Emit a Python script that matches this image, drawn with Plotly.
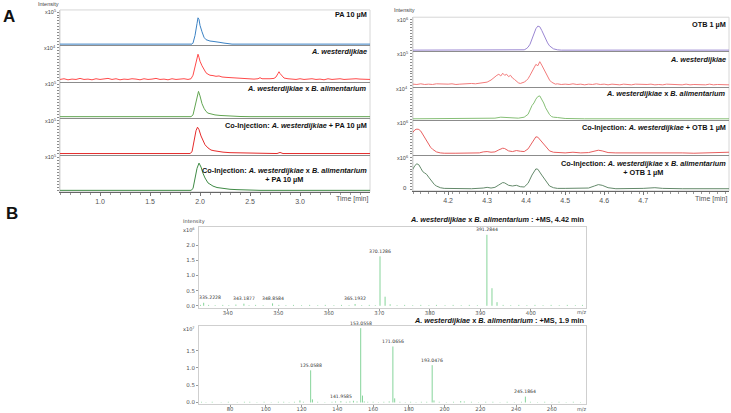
import plotly.graph_objects as go
import numpy as np

W, H = 731, 413
def PX(x): return x / W
def PY(y): return 1 - y / H

# ---------------- DATA ----------------
# Panel A, left: retention time [min] vs relative intensity
pa_std = [(0.60, 0.0), (1.92, 0.0), (1.93, 0.03), (1.95, 0.25), (1.97, 0.6), (1.98, 0.77), (1.99, 0.72),
          (2.00, 0.55), (2.02, 0.36), (2.04, 0.2), (2.06, 0.13), (2.08, 0.1), (2.10, 0.09), (2.13, 0.08),
          (2.16, 0.06), (2.20, 0.05), (2.24, 0.03), (2.28, 0.02), (2.32, 0.0), (3.70, 0.0)]
pa_aw = [(0.60, 0.03), (0.64, 0.05), (0.68, 0.02), (0.72, 0.04), (0.76, 0.03), (0.80, 0.06), (0.84, 0.03),
         (0.88, 0.04), (0.92, 0.02), (0.96, 0.05), (1.00, 0.03), (1.04, 0.04), (1.08, 0.06), (1.12, 0.03),
         (1.16, 0.05), (1.20, 0.02), (1.24, 0.04), (1.28, 0.03), (1.32, 0.05), (1.36, 0.04), (1.40, 0.02),
         (1.44, 0.05), (1.48, 0.03), (1.52, 0.04), (1.56, 0.06), (1.60, 0.03), (1.64, 0.04), (1.68, 0.02),
         (1.72, 0.05), (1.76, 0.03), (1.80, 0.04), (1.84, 0.05), (1.88, 0.03), (1.91, 0.05), (1.93, 0.15),
         (1.95, 0.42), (1.97, 0.68), (1.98, 0.75), (1.99, 0.66), (2.00, 0.55), (2.02, 0.42), (2.04, 0.33),
         (2.06, 0.22), (2.08, 0.18), (2.10, 0.15), (2.13, 0.14), (2.16, 0.12), (2.19, 0.13), (2.22, 0.10),
         (2.26, 0.09), (2.30, 0.08), (2.34, 0.07), (2.38, 0.06), (2.42, 0.06), (2.46, 0.05), (2.50, 0.05),
         (2.54, 0.04), (2.58, 0.05), (2.60, 0.08), (2.62, 0.05), (2.66, 0.04), (2.70, 0.05), (2.74, 0.06),
         (2.76, 0.10), (2.78, 0.20), (2.79, 0.25), (2.80, 0.20), (2.82, 0.12), (2.84, 0.07), (2.88, 0.05),
         (2.92, 0.04), (2.96, 0.03), (3.00, 0.05), (3.04, 0.03), (3.08, 0.04), (3.12, 0.05), (3.16, 0.03),
         (3.20, 0.04), (3.24, 0.02), (3.28, 0.05), (3.32, 0.03), (3.36, 0.04), (3.40, 0.05), (3.44, 0.03),
         (3.48, 0.04), (3.52, 0.03), (3.56, 0.05), (3.60, 0.04), (3.64, 0.03), (3.68, 0.04), (3.70, 0.03)]
pa_awba = [(0.60, 0.01), (1.91, 0.01), (1.93, 0.06), (1.95, 0.3), (1.97, 0.62), (1.985, 0.73), (2.00, 0.6),
           (2.02, 0.38), (2.04, 0.25), (2.06, 0.16), (2.08, 0.11), (2.11, 0.08), (2.15, 0.06), (2.20, 0.045),
           (2.25, 0.035), (2.30, 0.025), (2.40, 0.015), (2.50, 0.01), (2.75, 0.01), (2.79, 0.03), (2.83, 0.01),
           (3.70, 0.01)]
pa_co_aw = [(0.60, 0.0), (1.90, 0.0), (1.92, 0.05), (1.94, 0.35), (1.96, 0.65), (1.975, 0.75), (1.99, 0.68),
            (2.01, 0.5), (2.03, 0.38), (2.05, 0.25), (2.08, 0.16), (2.11, 0.1), (2.14, 0.08), (2.18, 0.06),
            (2.23, 0.04), (2.30, 0.025), (2.37, 0.02), (2.45, 0.01), (2.60, 0.0), (2.77, 0.0), (2.80, 0.03),
            (2.83, 0.0), (3.70, 0.0)]
pa_co_awba = [(0.60, 0.0), (1.91, 0.0), (1.93, 0.05), (1.95, 0.3), (1.97, 0.62), (1.99, 0.77), (2.01, 0.66),
              (2.03, 0.48), (2.05, 0.35), (2.08, 0.21), (2.11, 0.15), (2.13, 0.12), (2.17, 0.08), (2.23, 0.05),
              (2.30, 0.03), (2.37, 0.02), (2.45, 0.01), (2.60, 0.0), (3.70, 0.0)]

# Panel A, right
otb_std = [(4.11, 0.0), (4.39, 0.0), (4.395, 0.01), (4.40, 0.04), (4.405, 0.09), (4.41, 0.18), (4.415, 0.34),
           (4.42, 0.5), (4.425, 0.65), (4.43, 0.73), (4.435, 0.71), (4.44, 0.6), (4.445, 0.47), (4.45, 0.33),
           (4.455, 0.22), (4.46, 0.13), (4.465, 0.07), (4.47, 0.04), (4.48, 0.01), (4.49, 0.0), (4.92, 0.0)]
otb_aw = [(4.11, 0.04), (4.12, 0.03), (4.13, 0.05), (4.14, 0.03), (4.15, 0.04), (4.16, 0.03), (4.17, 0.05),
          (4.18, 0.04), (4.19, 0.03), (4.20, 0.04), (4.21, 0.05), (4.22, 0.03), (4.23, 0.04), (4.24, 0.05),
          (4.25, 0.04), (4.26, 0.06), (4.27, 0.05), (4.28, 0.06), (4.29, 0.08), (4.30, 0.10), (4.31, 0.16),
          (4.32, 0.26), (4.325, 0.30), (4.33, 0.33), (4.335, 0.28), (4.34, 0.36), (4.345, 0.30), (4.35, 0.33),
          (4.355, 0.26), (4.36, 0.30), (4.365, 0.22), (4.37, 0.18), (4.375, 0.12), (4.38, 0.08), (4.385, 0.06),
          (4.39, 0.07), (4.395, 0.10), (4.40, 0.14), (4.405, 0.20), (4.41, 0.30), (4.415, 0.42), (4.42, 0.50),
          (4.425, 0.62), (4.43, 0.58), (4.435, 0.70), (4.44, 0.60), (4.445, 0.48), (4.45, 0.36), (4.455, 0.26),
          (4.46, 0.16), (4.465, 0.10), (4.47, 0.07), (4.475, 0.04), (4.48, 0.05), (4.49, 0.03), (4.50, 0.04),
          (4.51, 0.03), (4.52, 0.05), (4.53, 0.03), (4.54, 0.04), (4.55, 0.02), (4.56, 0.04), (4.57, 0.03),
          (4.58, 0.05), (4.59, 0.03), (4.60, 0.04), (4.61, 0.02), (4.62, 0.04), (4.63, 0.03), (4.64, 0.02),
          (4.65, 0.04), (4.66, 0.03), (4.67, 0.02), (4.68, 0.04), (4.69, 0.03), (4.70, 0.02), (4.71, 0.03),
          (4.72, 0.04), (4.73, 0.02), (4.74, 0.03), (4.75, 0.02), (4.76, 0.04), (4.77, 0.03), (4.78, 0.02),
          (4.79, 0.03), (4.80, 0.02), (4.81, 0.04), (4.82, 0.02), (4.83, 0.03), (4.84, 0.02), (4.85, 0.03),
          (4.86, 0.02), (4.87, 0.04), (4.88, 0.02), (4.89, 0.03), (4.90, 0.02), (4.91, 0.03), (4.92, 0.02)]
otb_awba = [(4.11, 0.01), (4.20, 0.01), (4.28, 0.01), (4.30, 0.02), (4.32, 0.03), (4.335, 0.06), (4.345, 0.05),
            (4.36, 0.03), (4.38, 0.03), (4.395, 0.06), (4.405, 0.15), (4.415, 0.42), (4.42, 0.50), (4.425, 0.62),
            (4.43, 0.70), (4.435, 0.72), (4.44, 0.62), (4.445, 0.50), (4.45, 0.35), (4.455, 0.24), (4.46, 0.14),
            (4.465, 0.08), (4.47, 0.06), (4.48, 0.05), (4.49, 0.03), (4.50, 0.02), (4.55, 0.01), (4.92, 0.01)]
otb_co_aw = [(4.105, 0.58), (4.11, 0.66), (4.115, 0.72), (4.12, 0.74), (4.125, 0.73), (4.13, 0.68), (4.135, 0.58),
             (4.14, 0.48), (4.145, 0.38), (4.15, 0.28), (4.155, 0.20), (4.16, 0.14), (4.165, 0.10), (4.17, 0.06),
             (4.18, 0.03), (4.19, 0.02), (4.22, 0.02), (4.25, 0.02), (4.28, 0.03), (4.29, 0.06), (4.30, 0.07),
             (4.31, 0.05), (4.32, 0.06), (4.33, 0.12), (4.34, 0.17), (4.345, 0.16), (4.355, 0.09), (4.365, 0.07),
             (4.375, 0.10), (4.385, 0.08), (4.395, 0.07), (4.405, 0.15), (4.415, 0.35), (4.425, 0.51), (4.43, 0.50),
             (4.44, 0.36), (4.45, 0.20), (4.46, 0.09), (4.47, 0.05), (4.48, 0.04), (4.49, 0.05), (4.50, 0.03),
             (4.52, 0.05), (4.54, 0.03), (4.56, 0.04), (4.575, 0.09), (4.585, 0.11), (4.595, 0.09), (4.61, 0.04),
             (4.63, 0.03), (4.66, 0.03), (4.69, 0.04), (4.72, 0.05), (4.74, 0.04), (4.77, 0.03), (4.80, 0.03),
             (4.83, 0.02), (4.86, 0.03), (4.89, 0.03), (4.91, 0.05), (4.92, 0.05)]
otb_co_awba = [(4.105, 0.50), (4.11, 0.60), (4.115, 0.70), (4.12, 0.75), (4.125, 0.72), (4.13, 0.62), (4.135, 0.52),
               (4.14, 0.48), (4.145, 0.44), (4.15, 0.36), (4.155, 0.28), (4.16, 0.20), (4.165, 0.14), (4.17, 0.10),
               (4.175, 0.07), (4.18, 0.05), (4.19, 0.03), (4.22, 0.02), (4.26, 0.02), (4.29, 0.04), (4.30, 0.06),
               (4.31, 0.04), (4.32, 0.06), (4.33, 0.13), (4.34, 0.20), (4.345, 0.19), (4.355, 0.12), (4.365, 0.10),
               (4.375, 0.12), (4.385, 0.08), (4.395, 0.07), (4.405, 0.18), (4.415, 0.42), (4.425, 0.60), (4.43, 0.59),
               (4.44, 0.42), (4.45, 0.25), (4.46, 0.10), (4.47, 0.05), (4.48, 0.03), (4.50, 0.03), (4.53, 0.03),
               (4.56, 0.04), (4.575, 0.10), (4.585, 0.14), (4.595, 0.12), (4.61, 0.05), (4.63, 0.02), (4.66, 0.02),
               (4.70, 0.03), (4.73, 0.05), (4.75, 0.03), (4.80, 0.02), (4.85, 0.02), (4.92, 0.02)]

# Panel B: mass spectra (m/z, intensity)
ms1_peaks = [(334.6, 0.03), (335.2228, 0.10), (336.2, 0.03), (337.5, 0.02), (339.0, 0.03), (340.2, 0.02),
             (341.6, 0.04), (343.1877, 0.07), (344.2, 0.02), (345.5, 0.03), (347.0, 0.02), (348.8584, 0.08),
             (350.1, 0.03), (351.5, 0.02), (353.0, 0.03), (354.6, 0.02), (356.2, 0.03), (357.8, 0.02),
             (359.3, 0.03), (361.0, 0.02), (362.5, 0.03), (364.0, 0.02), (365.1932, 0.06), (366.5, 0.02),
             (368.0, 0.03), (369.2, 0.02), (370.1286, 1.63), (371.1318, 0.30), (372.13, 0.05), (373.5, 0.02),
             (375.0, 0.03), (376.6, 0.02), (378.2, 0.03), (379.8, 0.02), (381.3, 0.03), (383.0, 0.02),
             (384.6, 0.03), (386.2, 0.02), (387.8, 0.03), (389.4, 0.02), (391.2844, 2.34), (392.2877, 0.58),
             (393.29, 0.12), (394.5, 0.03), (396.0, 0.02), (397.6, 0.03), (399.2, 0.02), (400.8, 0.03),
             (402.4, 0.02), (404.0, 0.03), (405.6, 0.02), (407.2, 0.03), (408.8, 0.02), (410.2, 0.03)]
ms1_labels = [335.2228, 343.1877, 348.8584, 365.1932, 370.1286, 391.2844]
ms2_peaks = [(64, 0.02), (66.5, 0.01), (70, 0.02), (75, 0.01), (79, 0.02), (84, 0.01), (88, 0.02), (91, 0.02),
             (95, 0.01), (99, 0.02), (103, 0.01), (107, 0.02), (110, 0.02), (113, 0.01), (116, 0.02),
             (119.05, 0.06), (121, 0.02), (125.0588, 0.93), (126.06, 0.09), (129, 0.02), (133, 0.01), (137, 0.02),
             (139, 0.03), (141.9585, 0.04), (145, 0.02), (147, 0.03), (149, 0.05), (151, 0.03), (153.0558, 2.15),
             (154.06, 0.20), (155.06, 0.03), (157, 0.02), (160, 0.02), (163, 0.01), (166, 0.02), (169, 0.03),
             (171.0656, 1.62), (172.07, 0.12), (175, 0.02), (178, 0.01), (181, 0.02), (184, 0.01), (187, 0.02),
             (190, 0.02), (193.0476, 1.08), (194.05, 0.06), (197, 0.02), (201, 0.01), (205, 0.02), (209, 0.04),
             (211, 0.03), (215, 0.02), (219, 0.01), (223, 0.02), (227, 0.02), (231, 0.01), (235, 0.02), (239, 0.01),
             (243, 0.02), (245.1864, 0.17), (248, 0.02), (252, 0.01), (256, 0.02), (260, 0.01), (264, 0.02),
             (268, 0.01), (272, 0.02), (276, 0.01)]
ms2_labels = [125.0588, 141.9585, 153.0558, 171.0656, 193.0476, 245.1864]

left_ticks = [1.0, 1.5, 2.0, 2.5, 3.0]
right_ticks = [4.2, 4.3, 4.4, 4.5, 4.6, 4.7]
ms1_ticks = [340, 350, 360, 370, 380, 390, 400]
ms2_ticks = [80, 100, 120, 140, 160, 180, 200, 220, 240, 260]

AW = "<i>A. westerdijkiae</i>"
BA = "<i>B. alimentarium</i>"
left_series = [
    ("PA 10 µM", pa_std, "#3b82c4", "x10<sup>5</sup>"),
    (AW, pa_aw, "#ff4a4a", "x10<sup>4</sup>"),
    (AW + " x " + BA, pa_awba, "#62a552", "x10<sup>5</sup>"),
    ("Co-Injection: " + AW + " + PA 10 µM", pa_co_aw, "#e52b2b", "x10<sup>5</sup>"),
    ("Co-Injection: " + AW + " x " + BA + "<br>+ PA 10 µM", pa_co_awba, "#3f8a45", "x10<sup>5</sup>"),
]
right_series = [
    ("OTB 1 µM", otb_std, "#9a86d2", "x10<sup>6</sup>"),
    (AW, otb_aw, "#f27b7b", "x10<sup>5</sup>"),
    (AW + " x " + BA, otb_awba, "#86bf76", "x10<sup>4</sup>"),
    ("Co-Injection: " + AW + " + OTB 1 µM", otb_co_aw, "#e85f5f", "x10<sup>6</sup>"),
    ("Co-Injection: " + AW + " x " + BA + "<br>+ OTB 1 µM", otb_co_awba, "#63896a", "x10<sup>6</sup>"),
]

# ---------------- LAYOUT GEOMETRY (pixels) ----------------
FONT = "Liberation Sans, Arial, sans-serif"
TICKC = "#555555"
left_x = (60, 370)
right_x = (413, 729)
left_b = [10, 45.7, 82.3, 119, 155.7, 192.7]
right_b = [17.3, 51.7, 87.3, 121, 156, 191.7]
left_lab_y = [15, 52, 89, 126, 176]
right_lab_y = [25, 60, 94, 128, 169]
left_range = [0.6, 3.7]
right_range = [4.11, 4.92]

fig = go.Figure()
lay = {}
ann = []
shapes = []
n = 0

def axname(k):
    return "" if k == 1 else str(k)

def add_panel(series, xpx, bounds, lab_y, xr, ticks, minor_dt, scale_x):
    global n
    for i, (label, pts, color, scale) in enumerate(series):
        n += 1
        k = axname(n)
        t = [p[0] for p in pts]
        v = [p[1] for p in pts]
        fig.add_trace(go.Scatter(x=t, y=v, mode="lines", line=dict(color=color, width=1),
                                 xaxis="x" + k, yaxis="y" + k, hoverinfo="skip"))
        bottom = i == len(series) - 1
        xa = dict(domain=[PX(xpx[0]), PX(xpx[1])], anchor="y" + k, range=xr, showgrid=False,
                  zeroline=False, showline=True, linecolor="#8c8c8c" if not bottom else "#666666",
                  linewidth=1, fixedrange=True)
        if bottom:
            xa.update(tickmode="array", tickvals=ticks, ticktext=[f"{x:.1f}" for x in ticks],
                      ticks="outside", ticklen=3, tickcolor="#777", tickfont=dict(size=7, color=TICKC, family=FONT),
                      minor=dict(tickmode="array", tickvals=list(np.arange(xr[0], xr[1], minor_dt)),
                                 ticks="outside", ticklen=2, tickcolor="#999"))
        else:
            xa.update(showticklabels=False, ticks="")
        ya = dict(domain=[PY(bounds[i + 1]), PY(bounds[i])], anchor="x" + k, range=[-0.04, 1.0],
                  showgrid=False, zeroline=False, showline=True, linecolor="#d0d0d0", linewidth=1,
                  tickmode="array", tickvals=[round(j * 0.085, 3) for j in range(12)],
                  ticks="outside", ticklen=2, tickcolor="#8a8a8a", showticklabels=False, fixedrange=True)
        lay["xaxis" + k] = xa
        lay["yaxis" + k] = ya
        ann.append(dict(xref="paper", yref="paper", x=PX(xpx[1] - 1), y=PY(lab_y[i]), xanchor="right",
                        yanchor="middle", align="center", showarrow=False,
                        text="<b>" + label + "</b>", font=dict(size=7.3, color="#111", family=FONT)))
        ann.append(dict(xref="paper", yref="paper", x=PX(scale_x), y=PY(bounds[i] + 2.5), xanchor="right",
                        yanchor="middle", showarrow=False, text=scale,
                        font=dict(size=5.5, color="#444", family=FONT)))
    shapes.append(dict(type="rect", xref="paper", yref="paper", x0=PX(xpx[0]), x1=PX(xpx[1]),
                       y0=PY(bounds[-1]), y1=PY(bounds[0]), line=dict(color="#d6d6d6", width=1), layer="below"))
    ann.append(dict(xref="paper", yref="paper", x=PX(xpx[1]), y=PY(200), xanchor="right", yanchor="middle",
                    showarrow=False, text="Time [min]", font=dict(size=7, color=TICKC, family=FONT)))

add_panel(left_series, left_x, left_b, left_lab_y, left_range, left_ticks, 0.1, 58)
add_panel(right_series, right_x, right_b, right_lab_y, right_range, right_ticks, 0.02, 410)

ann.append(dict(xref="paper", yref="paper", x=PX(409), y=PY(189), xanchor="right", yanchor="middle",
                showarrow=False, text="0", font=dict(size=6, color="#444", family=FONT)))
ann.append(dict(xref="paper", yref="paper", x=PX(48), y=PY(4), xanchor="center", yanchor="middle",
                showarrow=False, text="Intensity", font=dict(size=5.5, color="#444", family=FONT)))
ann.append(dict(xref="paper", yref="paper", x=PX(404), y=PY(10), xanchor="center", yanchor="middle",
                showarrow=False, text="Intensity", font=dict(size=5.5, color="#444", family=FONT)))

# ---------------- MASS SPECTRA ----------------
def add_ms(peaks, labels, xpx, top, bottom, xr, yr, xt, yt, title, title_y, scale, label_shift):
    global n
    n += 1
    k = axname(n)
    xs, ys = [], []
    for m, v in peaks:
        xs += [m, m, None]
        ys += [0, v, None]
    fig.add_trace(go.Scatter(x=xs, y=ys, mode="lines", line=dict(color="#86d49a", width=1),
                             xaxis="x" + k, yaxis="y" + k, hoverinfo="skip"))
    lay["xaxis" + k] = dict(domain=[PX(xpx[0]), PX(xpx[1])], anchor="y" + k, range=xr, showgrid=False,
                            zeroline=False, showline=True, mirror=True, linecolor="#cfcfcf", linewidth=1,
                            tickmode="array", tickvals=xt, ticks="outside", ticklen=2, tickcolor="#999",
                            ticklabelstandoff=-2,
                            tickfont=dict(size=5.3, color=TICKC, family="DejaVu Sans"), fixedrange=True)
    lay["yaxis" + k] = dict(domain=[PY(bottom), PY(top)], anchor="x" + k, range=yr, showgrid=False,
                            zeroline=False, showline=True, mirror=True, linecolor="#cfcfcf", linewidth=1,
                            tickmode="array", tickvals=yt, ticktext=[f"{v:.1f}" for v in yt], ticks="outside",
                            ticklen=2, tickcolor="#999", tickfont=dict(size=5.5, color=TICKC, family="DejaVu Sans"),
                            fixedrange=True)
    pk = dict(peaks)
    for m in labels:
        ann.append(dict(xref="x" + k, yref="y" + k, x=m, y=pk[m], xanchor="center", yanchor="bottom",
                        yshift=0.5, xshift=label_shift.get(m, 0), showarrow=False, text=f"{m:.4f}",
                        font=dict(size=4.6, color="#333", family="DejaVu Sans")))
    ann.append(dict(xref="paper", yref="paper", x=PX(xpx[1]), y=PY(title_y), xanchor="right", yanchor="middle",
                    showarrow=False, text=title, font=dict(size=7.3, color="#111", family=FONT)))
    ann.append(dict(xref="paper", yref="paper", x=PX(xpx[1] - 4), y=PY(bottom + 5), xanchor="center",
                    yanchor="middle", showarrow=False, text="m/z", font=dict(size=5, color=TICKC, family="DejaVu Sans")))
    ann.append(dict(xref="paper", yref="paper", x=PX(xpx[0] - 2), y=PY(top + 3), xanchor="right", yanchor="middle",
                    showarrow=False, text=scale, font=dict(size=5, color="#444", family="DejaVu Sans")))

MS_TITLE = "<b>" + AW + " x " + BA + " : +MS, {} min</b>"
add_ms(ms1_peaks, ms1_labels, (199, 586), 228, 309, [334.3, 410.9], [-0.056, 2.6], ms1_ticks,
       [0.0, 0.5, 1.0, 1.5, 2.0], MS_TITLE.format("4.42"), 220.5, "x10<sup>6</sup>", {335.2228: 6})
add_ms(ms2_peaks, ms2_labels, (199, 586), 328, 405.5, [62.6, 279.1], [-0.03, 2.2], ms2_ticks,
       [0.0, 0.5, 1.0, 1.5], MS_TITLE.format("1.9"), 322.3, "x10<sup>7</sup>", {})
ann.append(dict(xref="paper", yref="paper", x=PX(194), y=PY(223), xanchor="center", yanchor="middle",
                showarrow=False, text="Intensity", font=dict(size=5, color="#444", family="DejaVu Sans")))

# panel letters
ann.append(dict(xref="paper", yref="paper", x=PX(9), y=PY(17), xanchor="center", yanchor="middle",
                showarrow=False, text="<b>A</b>", font=dict(size=17, color="#111", family=FONT)))
ann.append(dict(xref="paper", yref="paper", x=PX(12), y=PY(215), xanchor="center", yanchor="middle",
                showarrow=False, text="<b>B</b>", font=dict(size=17, color="#111", family=FONT)))

fig.update_layout(width=W, height=H, margin=dict(l=0, r=0, t=0, b=0), showlegend=False,
                  paper_bgcolor="white", plot_bgcolor="white", annotations=ann, shapes=shapes,
                  hovermode=False, **lay)
fig.write_html("out.html", config={"displayModeBar": False})
